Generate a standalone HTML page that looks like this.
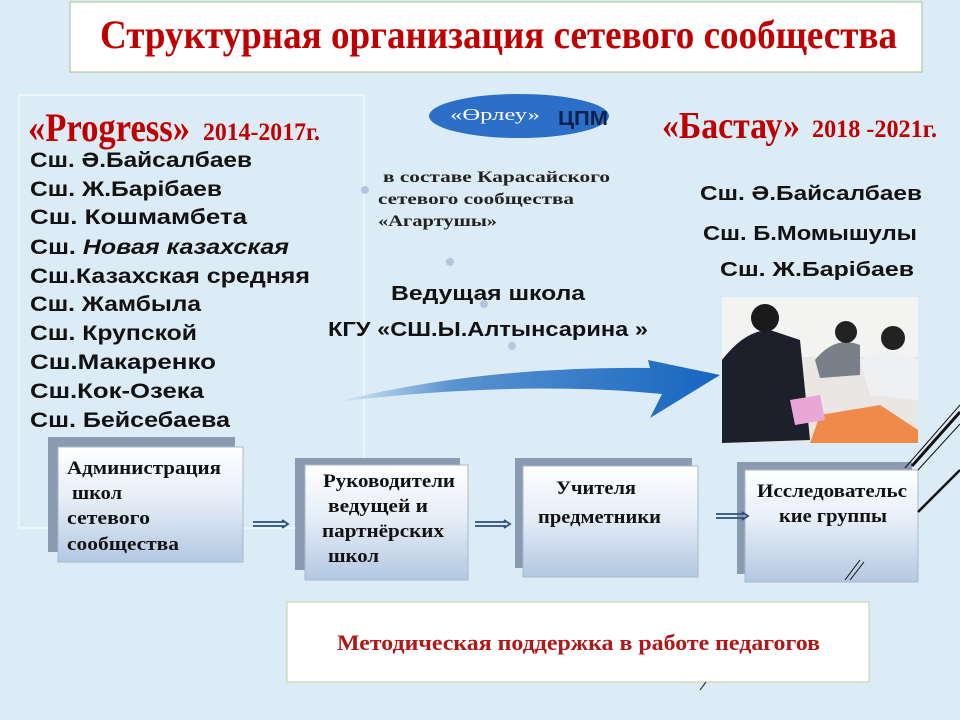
<!DOCTYPE html>
<html><head><meta charset="utf-8"><style>html,body{margin:0;padding:0;background:#dcecf6}svg{display:block}</style></head><body>
<svg width="960" height="720" viewBox="0 0 960 720" xmlns="http://www.w3.org/2000/svg">
<defs>
<linearGradient id="g" x1="0" y1="0" x2="0" y2="1"><stop offset="0" stop-color="#ffffff"/><stop offset="0.45" stop-color="#e6eef7"/><stop offset="1" stop-color="#b3c8e2"/></linearGradient>
<linearGradient id="ag" x1="0" y1="0" x2="1" y2="0"><stop offset="0" stop-color="#dcecf6"/><stop offset="0.3" stop-color="#5b93d0"/><stop offset="1" stop-color="#1565c0"/></linearGradient>
</defs>
<rect width="960" height="720" fill="#dcecf6"/>
<rect x="70" y="2" width="852" height="70" fill="#fff" stroke="#a9c08a" stroke-width="1"/>
<text x="100" y="48" font-family="Liberation Serif, serif" font-weight="bold" font-size="40" fill="#c00000" textLength="797" lengthAdjust="spacingAndGlyphs">Структурная организация  сетевого  сообщества</text>
<rect x="19" y="95" width="345" height="433" fill="none" stroke="#f4f9fc" stroke-width="1.2"/>
<text x="28" y="141" font-family="Liberation Serif, serif" font-weight="bold" font-size="40" fill="#c00000" textLength="162" lengthAdjust="spacingAndGlyphs">«Progress»</text>
<text x="203" y="140" font-family="Liberation Serif, serif" font-weight="bold" font-size="25" fill="#c00000" textLength="117" lengthAdjust="spacingAndGlyphs">2014-2017г.</text>
<g font-family="Liberation Sans, sans-serif" font-weight="bold" font-size="21" fill="#111">
<text x="30" y="167" textLength="222" lengthAdjust="spacingAndGlyphs">Сш. Ә.Байсалбаев</text>
<text x="30" y="196" textLength="192" lengthAdjust="spacingAndGlyphs">Сш. Ж.Барібаев</text>
<text x="30" y="224" textLength="217" lengthAdjust="spacingAndGlyphs">Сш. Кошмамбета</text>
<text x="30" y="254" textLength="259" lengthAdjust="spacingAndGlyphs"><tspan>Сш. </tspan><tspan font-style="italic">Новая казахская</tspan></text>
<text x="30" y="283" textLength="280" lengthAdjust="spacingAndGlyphs">Сш.Казахская средняя</text>
<text x="30" y="311" textLength="171" lengthAdjust="spacingAndGlyphs">Сш. Жамбыла</text>
<text x="30" y="340" textLength="167" lengthAdjust="spacingAndGlyphs">Сш. Крупской</text>
<text x="30" y="369" textLength="186" lengthAdjust="spacingAndGlyphs">Сш.Макаренко</text>
<text x="30" y="398" textLength="174" lengthAdjust="spacingAndGlyphs">Сш.Кок-Озека</text>
<text x="30" y="427" textLength="200" lengthAdjust="spacingAndGlyphs">Сш. Бейсебаева</text>
</g>
<ellipse cx="519" cy="116" rx="90" ry="22" fill="#2b6fc8"/>
<text x="450" y="120" font-family="Liberation Serif, serif" font-size="17" fill="#fff" textLength="90" lengthAdjust="spacingAndGlyphs">«Өрлеу»</text>
<text x="558" y="125" font-family="Liberation Sans, sans-serif" font-weight="bold" font-size="20" fill="#0a1f4d" textLength="50" lengthAdjust="spacingAndGlyphs">ЦПМ</text>
<text x="662" y="138" font-family="Liberation Serif, serif" font-weight="bold" font-size="38" fill="#c00000" textLength="138" lengthAdjust="spacingAndGlyphs">«Бастау»</text>
<text x="812" y="137" font-family="Liberation Serif, serif" font-weight="bold" font-size="25" fill="#c00000" textLength="125" lengthAdjust="spacingAndGlyphs">2018 -2021г.</text>
<g font-family="Liberation Sans, sans-serif" font-weight="bold" font-size="20" fill="#111">
<text x="700" y="200" textLength="222" lengthAdjust="spacingAndGlyphs">Сш. Ә.Байсалбаев</text>
<text x="703" y="240" textLength="214" lengthAdjust="spacingAndGlyphs">Сш. Б.Момышулы</text>
<text x="720" y="276" textLength="194" lengthAdjust="spacingAndGlyphs">Сш. Ж.Барібаев</text>
</g>
<g font-family="Liberation Serif, serif" font-weight="bold" font-size="16" fill="#222">
<text x="383" y="182" textLength="227" lengthAdjust="spacingAndGlyphs">в составе Карасайского</text>
<text x="378" y="204" textLength="196" lengthAdjust="spacingAndGlyphs">сетевого сообщества</text>
<text x="378" y="226" textLength="119" lengthAdjust="spacingAndGlyphs">«Агартушы»</text>
</g>
<g fill="#b8c4de"><circle cx="365" cy="190" r="4"/><circle cx="450" cy="262" r="4"/><circle cx="484" cy="304" r="4"/><circle cx="512" cy="346" r="4"/></g>
<g font-family="Liberation Sans, sans-serif" font-weight="bold" font-size="20" fill="#111">
<text x="391" y="300" textLength="194" lengthAdjust="spacingAndGlyphs">Ведущая школа</text>
<text x="328" y="336" textLength="320" lengthAdjust="spacingAndGlyphs">КГУ «СШ.Ы.Алтынсарина »</text>
</g>
<path d="M336,402 Q480,366 650,368 L648,360 L720,375 L650,418 L662,394 Q520,380 336,402 Z" fill="url(#ag)"/>
<rect x="722" y="297" width="196" height="146" fill="#e9e6e3"/>
<rect x="722" y="297" width="196" height="60" fill="#f3f3f1"/>
<path d="M722,360 Q745,330 770,330 L800,340 L810,440 L722,443 Z" fill="#1d1f2a"/>
<circle cx="765" cy="318" r="14" fill="#1a1a1a"/>
<path d="M815,360 Q835,335 860,345 L860,375 L820,378 Z" fill="#7a8089"/>
<circle cx="846" cy="332" r="11" fill="#222"/>
<path d="M860,360 Q890,345 918,360 L918,400 L870,395 Z" fill="#eef0f2"/>
<circle cx="893" cy="338" r="12" fill="#222"/>
<path d="M820,415 L880,405 L918,430 L918,443 L810,443 Z" fill="#f08a4a"/>
<path d="M790,400 L820,395 L825,420 L795,425 Z" fill="#e9a7d8"/>
<rect x="48" y="437" width="187" height="115" fill="#8a9bb1"/>
<rect x="58" y="447" width="185" height="115" fill="url(#g)" stroke="#aab9cc"/>
<rect x="295" y="458" width="165" height="112" fill="#8a9bb1"/>
<rect x="305" y="465" width="163" height="115" fill="url(#g)" stroke="#aab9cc"/>
<rect x="515" y="458" width="177" height="110" fill="#8a9bb1"/>
<rect x="523" y="466" width="175" height="111" fill="url(#g)" stroke="#aab9cc"/>
<rect x="737" y="462" width="175" height="112" fill="#8a9bb1"/>
<rect x="745" y="470" width="173" height="112" fill="url(#g)" stroke="#aab9cc"/>
<g font-family="Liberation Serif, serif" font-weight="bold" font-size="19" fill="#111" lengthAdjust="spacingAndGlyphs">
<text x="67" y="474" textLength="154" lengthAdjust="spacingAndGlyphs">Администрация</text>
<text x="72" y="499" textLength="50" lengthAdjust="spacingAndGlyphs">школ</text>
<text x="67" y="524" textLength="83" lengthAdjust="spacingAndGlyphs">сетевого</text>
<text x="67" y="550" textLength="112" lengthAdjust="spacingAndGlyphs">сообщества</text>
<text x="323" y="487" textLength="132" lengthAdjust="spacingAndGlyphs">Руководители</text>
<text x="328" y="512" textLength="100" lengthAdjust="spacingAndGlyphs">ведущей и</text>
<text x="322" y="537" textLength="122" lengthAdjust="spacingAndGlyphs">партнёрских</text>
<text x="328" y="562" textLength="51" lengthAdjust="spacingAndGlyphs">школ</text>
<text x="556" y="494" textLength="80" lengthAdjust="spacingAndGlyphs">Учителя</text>
<text x="538" y="523" textLength="123" lengthAdjust="spacingAndGlyphs">предметники</text>
<text x="757" y="497" textLength="150" lengthAdjust="spacingAndGlyphs">Исследовательс</text>
<text x="779" y="522" textLength="108" lengthAdjust="spacingAndGlyphs">кие группы</text>
</g>
<g fill="none" stroke="#2a4f7e" stroke-width="1.8">
<path d="M253,522 H284 M253,526 H284"/><path d="M282,520 L288,524 L282,528"/>
<path d="M475,522 H506 M475,526 H506"/><path d="M504,520 L510,524 L504,528"/>
<path d="M716,514 H744 M716,518 H744"/><path d="M742,512 L748,516 L742,520"/>
</g>
<rect x="287" y="602" width="582" height="80" fill="#fff" stroke="#c9d29a"/>
<text x="337" y="650" font-family="Liberation Serif, serif" font-weight="bold" font-size="22" fill="#b01818" textLength="483" lengthAdjust="spacingAndGlyphs">Методическая поддержка в работе педагогов</text>
<g stroke="#111" fill="none">
<line x1="905" y1="468" x2="960" y2="405" stroke-width="1"/>
<line x1="912" y1="466" x2="960" y2="412" stroke-width="3"/>
<line x1="918" y1="470" x2="960" y2="424" stroke-width="1"/>
<line x1="918" y1="512" x2="960" y2="470" stroke-width="2.5"/>
<line x1="845" y1="580" x2="860" y2="560" stroke-width="1"/>
<line x1="850" y1="580" x2="864" y2="562" stroke-width="1"/>
<line x1="700" y1="690" x2="706" y2="682" stroke-width="1"/>
</g>
</svg>
</body></html>
